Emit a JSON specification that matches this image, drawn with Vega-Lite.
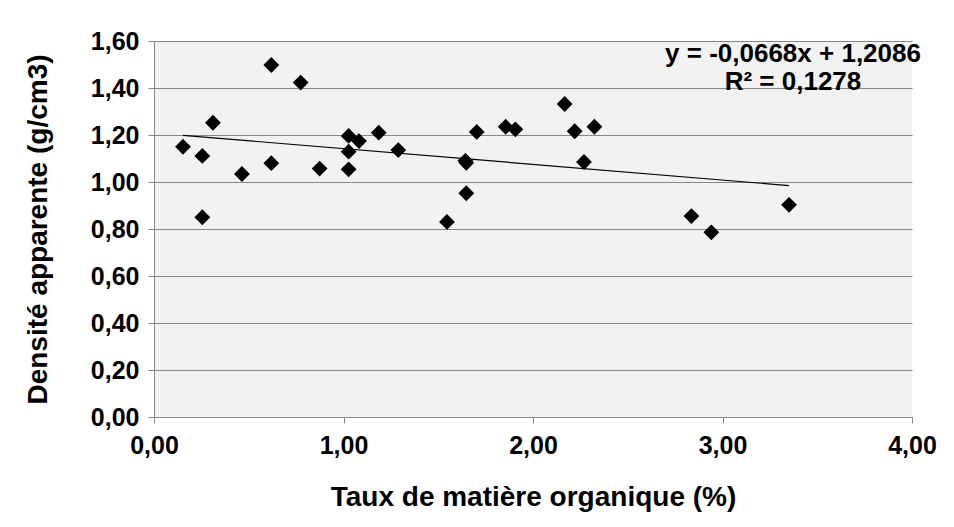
{
  "$schema": "https://vega.github.io/schema/vega-lite/v6.json",
  "width": 758,
  "height": 376,
  "autosize": {"type": "none"},
  "padding": {"left": 154, "top": 41, "right": 42, "bottom": 110},
  "background": "white",
  "config": {
    "font": "Liberation Sans",
    "view": {"fill": "#f2f2f2", "stroke": null},
    "axis": {
      "labelFont": "Liberation Sans",
      "titleFont": "Liberation Sans",
      "labelFontWeight": "bold",
      "titleFontWeight": "bold",
      "labelFontSize": 25,
      "titleFontSize": 28,
      "labelColor": "black",
      "titleColor": "black",
      "domainColor": "#868686",
      "tickColor": "#868686",
      "gridColor": "#868686",
      "tickSize": 6
    }
  },
  "datasets": {
    "points": [
      {"mo": 0.153, "da": 1.150},
      {"mo": 0.255, "da": 1.111},
      {"mo": 0.255, "da": 0.850},
      {"mo": 0.311, "da": 1.252},
      {"mo": 0.464, "da": 1.034},
      {"mo": 0.619, "da": 1.498},
      {"mo": 0.619, "da": 1.080},
      {"mo": 0.774, "da": 1.423},
      {"mo": 0.874, "da": 1.057},
      {"mo": 1.027, "da": 1.196},
      {"mo": 1.027, "da": 1.129},
      {"mo": 1.027, "da": 1.054},
      {"mo": 1.082, "da": 1.174},
      {"mo": 1.186, "da": 1.210},
      {"mo": 1.289, "da": 1.136},
      {"mo": 1.546, "da": 0.830},
      {"mo": 1.648, "da": 1.082},
      {"mo": 1.643, "da": 1.090},
      {"mo": 1.648, "da": 0.952},
      {"mo": 1.703, "da": 1.213},
      {"mo": 1.856, "da": 1.235},
      {"mo": 1.907, "da": 1.224},
      {"mo": 2.167, "da": 1.332},
      {"mo": 2.220, "da": 1.216},
      {"mo": 2.324, "da": 1.235},
      {"mo": 2.269, "da": 1.085},
      {"mo": 2.836, "da": 0.855},
      {"mo": 2.941, "da": 0.786},
      {"mo": 3.351, "da": 0.903}
    ],
    "trend": [
      {"mo": 0.153, "da": 1.1984},
      {"mo": 3.351, "da": 0.9848}
    ],
    "eq": [
      {"mo": 3.372, "da": 1.545, "label": ["y = -0,0668x + 1,2086", "R² = 0,1278"]}
    ]
  },
  "layer": [
    {
      "data": {"name": "points"},
      "mark": {"type": "point", "shape": "diamond", "filled": true, "color": "black", "size": 250, "opacity": 1},
      "encoding": {
        "x": {
          "field": "mo", "type": "quantitative",
          "scale": {"domain": [0, 4], "nice": false, "zero": false},
          "axis": {"values": [0, 1, 2, 3, 4], "grid": false, "labelFlush": false, "labelExpr": "replace(format(datum.value, '.2f'), '.', ',')", "labelPadding": 10, "title": "Taux de matière organique (%)", "titlePadding": 25}
        },
        "y": {
          "field": "da", "type": "quantitative",
          "scale": {"domain": [0, 1.6], "nice": false, "zero": false},
          "axis": {"values": [0, 0.2, 0.4, 0.6, 0.8, 1.0, 1.2, 1.4, 1.6], "labelFlush": false, "labelExpr": "replace(format(datum.value, '.2f'), '.', ',')", "labelPadding": 9, "title": "Densité apparente (g/cm3)", "titleX": -102}
        }
      }
    },
    {
      "data": {"name": "trend"},
      "mark": {"type": "line", "color": "black", "strokeWidth": 1.2},
      "encoding": {
        "x": {"field": "mo", "type": "quantitative"},
        "y": {"field": "da", "type": "quantitative"}
      }
    },
    {
      "data": {"name": "eq"},
      "mark": {"type": "text", "font": "Liberation Sans", "fontWeight": "bold", "fontSize": 26, "align": "center", "baseline": "middle", "lineHeight": 28, "color": "black"},
      "encoding": {
        "x": {"field": "mo", "type": "quantitative"},
        "y": {"field": "da", "type": "quantitative"},
        "text": {"field": "label"}
      }
    }
  ]
}
